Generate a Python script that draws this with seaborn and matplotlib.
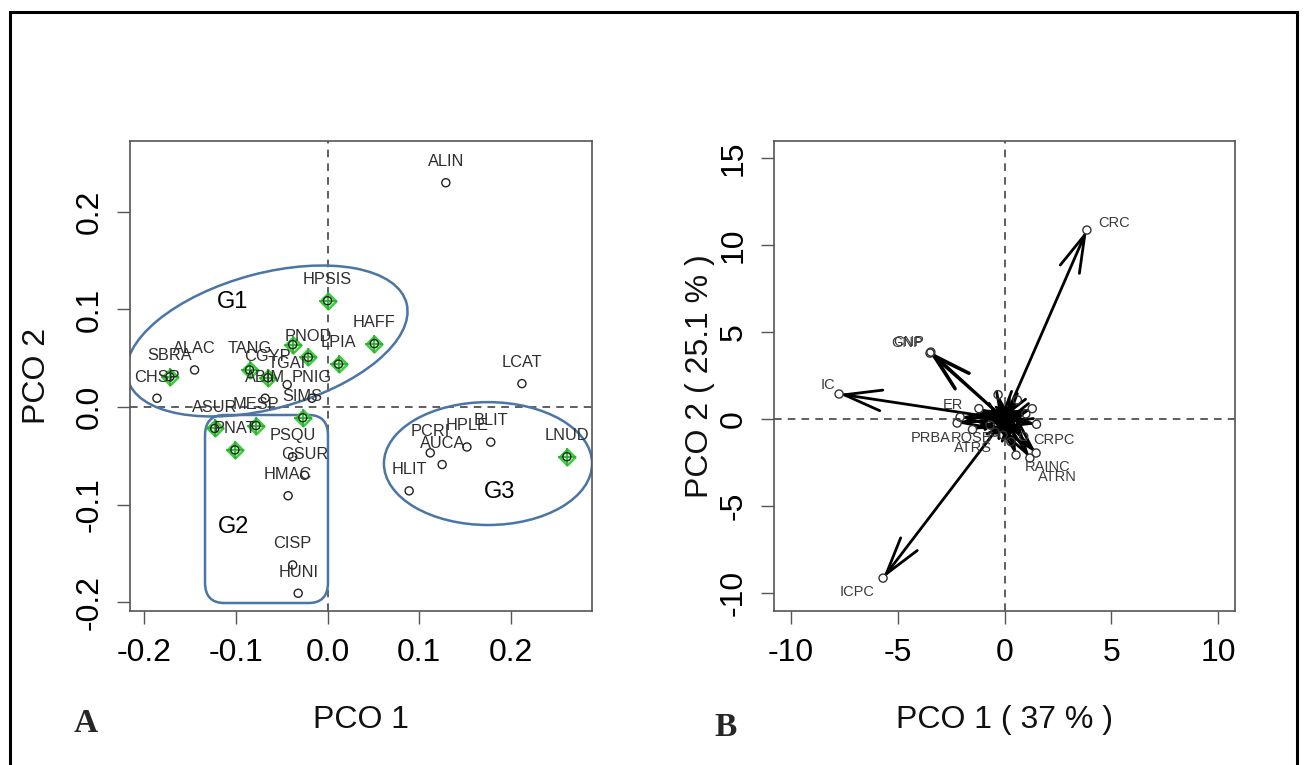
import numpy as np
import pandas as pd
import matplotlib
matplotlib.use("Agg")
import matplotlib.pyplot as plt
import seaborn as sns
from matplotlib.patches import Ellipse, FancyBboxPatch, Rectangle, FancyArrowPatch

# ---------------- Panel A data (species scores) ----------------
species = ["ALIN", "HPSIS", "HAFF", "LPIA", "PNOD", "", "TANG", "CGYP", "TGAI", "ABIM",
           "PNIG", "SIMS", "SBRA", "ALAC", "CHSP", "ASUR", "MESP", "PNAT", "PSQU", "GSUR",
           "HMAC", "CISP", "HUNI", "LCAT", "LNUD", "BLIT", "HPLE", "PCRI", "AUCA", "HLIT"]
pco1_a = [0.129, 0.000, 0.051, 0.012, -0.021, -0.038, -0.085, -0.065, -0.044, -0.068,
          -0.017, -0.027, -0.172, -0.145, -0.186, -0.123, -0.078, -0.101, -0.038, -0.025,
          -0.043, -0.038, -0.032, 0.212, 0.261, 0.178, 0.152, 0.112, 0.125, 0.089]
pco2_a = [0.230, 0.109, 0.065, 0.044, 0.051, 0.064, 0.038, 0.030, 0.023, 0.009,
          0.009, -0.011, 0.031, 0.038, 0.009, -0.022, -0.019, -0.044, -0.051, -0.070,
          -0.091, -0.162, -0.191, 0.024, -0.051, -0.036, -0.041, -0.047, -0.059, -0.086]
indicator = [False, True, True, True, True, True, True, True, False, False,
             False, True, True, False, False, True, True, True, False, False,
             False, False, False, False, True, False, False, False, False, False]
xticks_a = [-0.2, -0.1, 0.0, 0.1, 0.2]
xticklabels_a = ["-0.2", "-0.1", "0.0", "0.1", "0.2"]
yticks_a = [-0.2, -0.1, 0.0, 0.1, 0.2]
yticklabels_a = ["-0.2", "-0.1", "0.0", "0.1", "0.2"]

# ---------------- Panel B data (variable vectors) ----------------
variables = ["CRC", "GNP", "CNP", "IC", "ICPC", "ER", "PRBA", "ROSB", "ATRS", "CRPC",
             "RAINC", "ATRN", "", "", "", "", "", "", "", "", "", ""]
pco1_b = [3.86, -3.49, -3.45, -7.75, -5.69, -2.08, -2.22, -0.68, -0.44, 1.48,
          0.54, 1.19, -0.07, -0.3, 0.6, 1.3, 1.5, -1.2, 0.9, 0.3, -1.5, 1.0]
pco2_b = [10.86, 3.79, 3.85, 1.44, -9.14, 0.11, -0.23, -0.34, -0.75, -1.95,
          -2.07, -2.24, -0.92, 1.4, 1.1, 0.6, -0.3, 0.6, -1.0, -1.3, -0.6, 0.3]
xticks_b = [-10, -5, 0, 5, 10]
yticks_b = [-10, -5, 0, 5, 10, 15]

# label placement for panel B (offset points, horizontal alignment)
b_label_pos = {
    "CRC": (8, 5, "left"), "GNP": (-5, 7, "right"), "CNP": (-5, 7, "right"),
    "IC": (-3, 6.5, "right"), "ICPC": (-6, -10, "right"), "ER": (-5, 8.6, "center"),
    "PRBA": (-5, -11, "right"), "ROSB": (1.5, -9.4, "right"), "ATRS": (-2, -11.5, "right"),
    "CRPC": (-2, 9.4, "left"), "RAINC": (6.5, -8.6, "left"), "ATRN": (5.8, -13.7, "left"),
}

# ---------------- style ----------------
sns.set_theme(style="ticks")
plt.rcParams['font.family'] = ['Liberation Sans', 'DejaVu Sans']
plt.rcParams['axes.unicode_minus'] = False

W, H = 1304, 765
fig = plt.figure(figsize=(W / 100, H / 100), dpi=100)
fig.patch.set_facecolor("white")


def rect(l, t, r, b):
    return [l / W, 1 - b / H, (r - l) / W, (b - t) / H]


axA = fig.add_axes(rect(130, 141, 592, 611))
axB = fig.add_axes(rect(774, 141, 1235, 611))

SPINE = "#555555"
for ax in (axA, axB):
    for s in ax.spines.values():
        s.set_color(SPINE)
        s.set_linewidth(1.2)
        s.set_visible(True)
    ax.tick_params(axis="both", direction="out", length=9.5, width=1.0, color=SPINE,
                   labelsize=23, labelcolor="black")
    ax.tick_params(axis="x", pad=10)
    ax.tick_params(axis="y", pad=8.5)
    ax.set_facecolor("white")
    ax.grid(False)
    ax.axhline(0, color="#333333", lw=1.1, ls=(0, (5, 4)), zorder=1)
    ax.axvline(0, color="#333333", lw=1.1, ls=(0, (5, 4)), zorder=1)

# ---------------- Panel A ----------------
dfA = pd.DataFrame({"species": species, "PCO1": pco1_a, "PCO2": pco2_a, "ind": indicator})
green = dfA[dfA["ind"]]
sns.scatterplot(data=green, x="PCO1", y="PCO2", ax=axA, marker=(4, 0, 0), s=130,
                facecolor="#c8f5c8", edgecolor="#3ccf3c", linewidth=1.8, zorder=3, legend=False)
sns.scatterplot(data=green, x="PCO1", y="PCO2", ax=axA, marker="+", s=150,
                color="#2fa82f", linewidth=1.2, zorder=4, legend=False)
sns.scatterplot(data=dfA, x="PCO1", y="PCO2", ax=axA, marker="o", s=34,
                facecolor="none", edgecolor="#222222", linewidth=1.0, zorder=5, legend=False)
for name, x, y in zip(species, pco1_a, pco2_a):
    if name:
        axA.annotate(name, (x, y), xytext=(0, 12), textcoords="offset points",
                     ha="center", va="baseline", fontsize=11.8, color="#2e2e2e", zorder=6)

ell_col = "#4a75a6"
axA.add_patch(Ellipse((-0.066, 0.0677), width=0.314, height=0.139, angle=14,
                      fill=False, ec=ell_col, lw=1.8, zorder=2))
axA.add_patch(Ellipse((0.175, -0.058), width=0.227, height=0.126, angle=0,
                      fill=False, ec=ell_col, lw=1.8, zorder=2))
axA.add_patch(FancyBboxPatch((-0.1336, -0.201), 0.1341, 0.1928,
                             boxstyle="round,pad=0,rounding_size=0.021",
                             fill=False, ec=ell_col, lw=1.8, zorder=2))
axA.text(-0.104, 0.108, "G1", fontsize=17, ha="center", va="center", color="black")
axA.text(-0.103, -0.123, "G2", fontsize=17, ha="center", va="center", color="black")
axA.text(0.188, -0.087, "G3", fontsize=17, ha="center", va="center", color="black")

axA.set_xlim(-0.2154, 0.2884)
axA.set_ylim(-0.2092, 0.2728)
axA.set_xticks(xticks_a)
axA.set_xticklabels(xticklabels_a)
axA.set_yticks(yticks_a)
axA.set_yticklabels(yticklabels_a)
axA.set_xlabel("PCO 1", fontsize=23, color="#111111")
axA.set_ylabel("PCO 2", fontsize=23, color="#111111")

# ---------------- Panel B ----------------
dfB = pd.DataFrame({"var": variables, "PCO1": pco1_b, "PCO2": pco2_b})
for x, y in zip(pco1_b, pco2_b):
    axB.add_patch(FancyArrowPatch((0, 0), (x, y),
                                  arrowstyle="->,head_length=2.7,head_width=0.75",
                                  mutation_scale=10, lw=2.0, color="black",
                                  shrinkA=0, shrinkB=0, zorder=3))
sns.scatterplot(data=dfB, x="PCO1", y="PCO2", ax=axB, marker="o", s=34,
                facecolor="none", edgecolor="#333333", linewidth=1.0, zorder=4, legend=False)
for name, x, y in zip(variables, pco1_b, pco2_b):
    if name:
        dx, dy, ha = b_label_pos[name]
        axB.annotate(name, (x, y), xytext=(dx, dy), textcoords="offset points",
                     ha=ha, va="center", fontsize=10.5, color="#3a3a3a", zorder=5)

axB.set_xlim(-10.8, 10.8)
axB.set_ylim(-11.03, 15.98)
axB.set_xticks(xticks_b)
axB.set_yticks(yticks_b)
axB.set_xlabel("PCO 1 ( 37 % )", fontsize=23, color="#111111")
axB.set_ylabel("PCO 2 ( 25.1 % )", fontsize=23, color="#111111")

for ax, ylab_x in ((axA, (37 - 130) / 462), (axB, (700 - 774) / 461)):
    for lab in ax.get_yticklabels():
        lab.set_rotation(90)
        lab.set_va("center")
    ax.xaxis.set_label_coords(0.5, (611 - 720) / 470)
    ax.xaxis.label.set_va("center")
    ax.yaxis.set_label_coords(ylab_x, 0.5)
    ax.yaxis.label.set_va("center")

# panel letters and frame
fig.text(86 / W, 1 - 723 / H, "A", family=["Liberation Serif", "DejaVu Serif"],
         fontweight="bold", fontsize=24, ha="center", va="center")
fig.text(726 / W, 1 - 728 / H, "B", family=["Liberation Serif", "DejaVu Serif"],
         fontweight="bold", fontsize=24, ha="center", va="center")
fig.add_artist(Rectangle((10 / W, -0.05), (1297 - 10) / W, 1 - 12 / H + 0.05,
                         transform=fig.transFigure, fill=False, lw=2.2, ec="black"))

fig.savefig("out.png", dpi=100, facecolor="white")
